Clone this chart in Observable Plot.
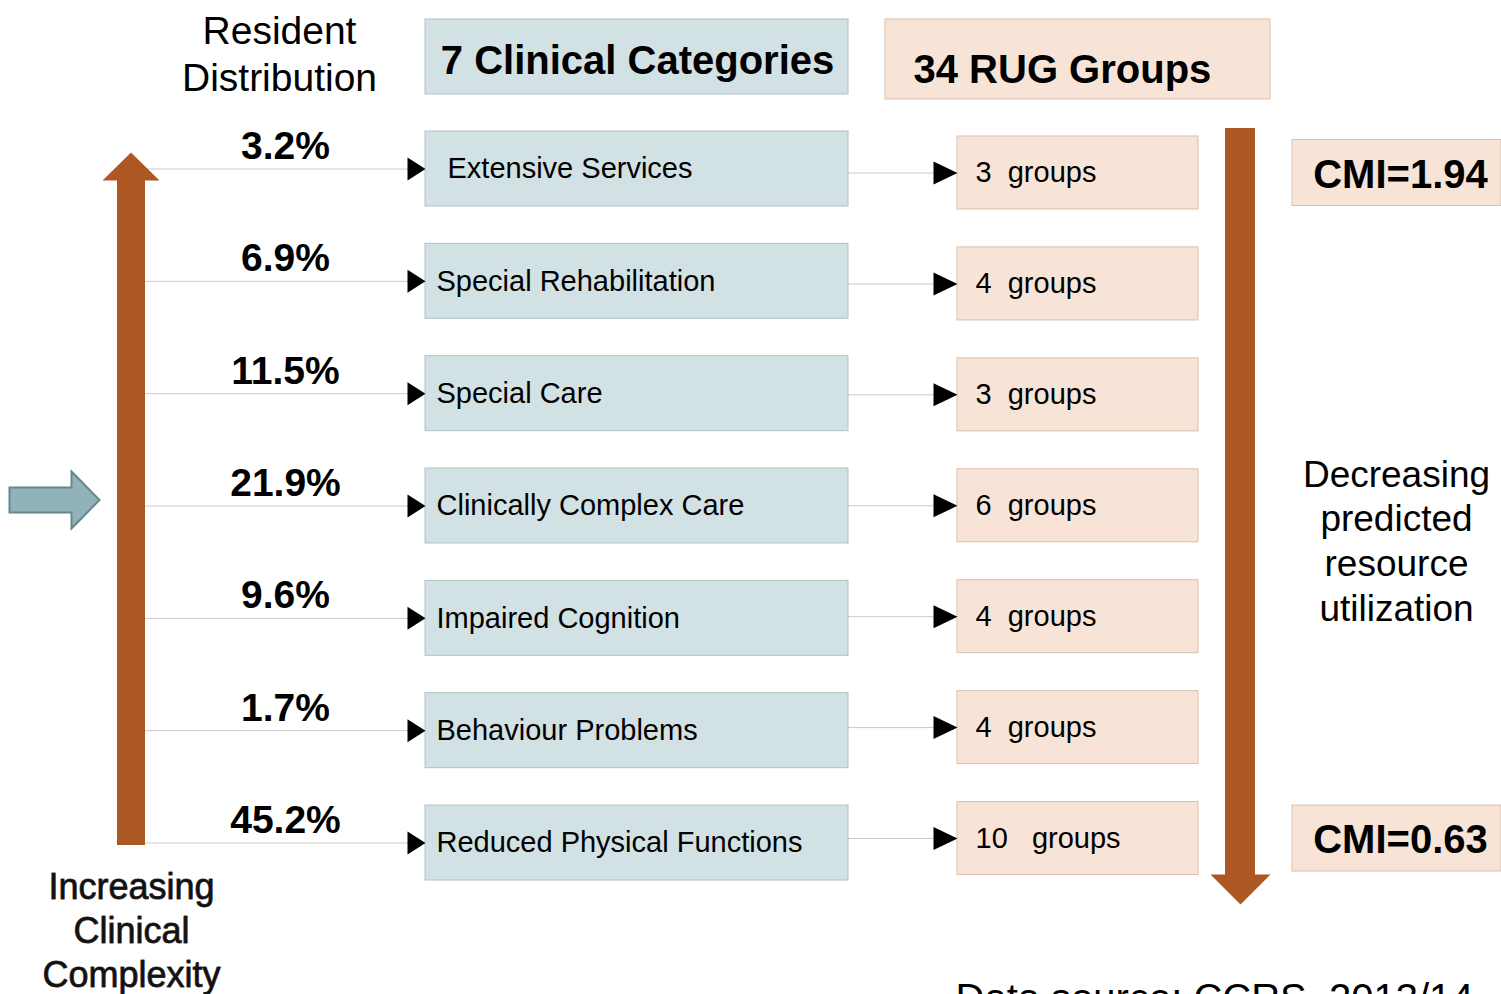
<!DOCTYPE html>
<html><head><meta charset="utf-8">
<script src="https://cdn.jsdelivr.net/npm/d3@7"></script>
<script src="https://cdn.jsdelivr.net/npm/@observablehq/plot@0.6"></script>
<style>
body{margin:0;background:#fff}
svg{display:block}
svg text{white-space:pre}
</style>
</head><body><div id="chart"></div>
<script>
// ---- data ----
const categories = ["Extensive Services","Special Rehabilitation","Special Care","Clinically Complex Care","Impaired Cognition","Behaviour Problems","Reduced Physical Functions"];
const shares = [3.2, 6.9, 11.5, 21.9, 9.6, 1.7, 45.2];
const groupCounts = [3, 4, 3, 6, 4, 4, 10];
const cmiValues = [1.94, 0.63];
const headers = ["7 Clinical Categories", "34 RUG Groups"];
const sideLabels = ["Resident\nDistribution", "Decreasing\npredicted\nresource\nutilization", "Increasing\nClinical\nComplexity", "Data source: CCRS, 2013/14"];

// ---- layout (row units on the y scale) ----
const RUG_SHIFT = 4 / 112.33, RUG_STEP = 110.92 / 112.33;
const rows = categories.map((c, i) => ({category: c, row: i, share: shares[i], groups: groupCounts[i], rug: RUG_SHIFT + RUG_STEP * i}));
const cmi = cmiValues.map((v, i) => ({label: `CMI=${v.toFixed(2)}`, rug: i === 0 ? rows[0].rug : rows[rows.length - 1].rug}));
const last = rows.length - 1;

const orange = "#ad5722", blueFill = "#d2e1e4", blueStroke = "#b2c2c4", peachFill = "#f8e4d7", peachStroke = "#d8bfaf", lineGray = "#cacaca";
const font = "Liberation Sans, Arial, Helvetica, sans-serif";

const poly = (pts) => ({draw(ctx) { ctx.moveTo(pts[0][0], pts[0][1]); for (const p of pts.slice(1)) ctx.lineTo(p[0], p[1]); ctx.closePath(); }});
const tri1 = poly([[9, 0], [-9, -11.5], [-9, 11.5]]);
const tri2 = poly([[12, 0], [-12, -11.5], [-12, 11.5]]);
const upHead = poly([[0, -16.5], [28.5, 11.5], [-28.5, 11.5]]);
const downHead = poly([[-30, 31.5], [30, 31.5], [0, 61.5]]);
const blueArrow = poly([[-45, -12.5], [17, -12.5], [17, -28.5], [45, 0], [17, 28.5], [17, 12.5], [-45, 12.5]]);

const chart = Plot.plot({
  width: 1501, height: 994, margin: 0,
  style: {fontFamily: font, background: "#fff", color: "#000"},
  x: {domain: [0, 1501], range: [0, 1501], axis: null},
  y: {domain: [0, last], range: [168.5, 842.5], axis: null},
  marks: [
    // connectors
    Plot.ruleY(rows, {y: "row", x1: 145, x2: 408, stroke: lineGray, strokeWidth: 1}),
    Plot.ruleY(rows, {y: "rug", x1: 848, x2: 934, stroke: lineGray, strokeWidth: 1}),
    // header boxes
    Plot.rect([headers[0]], {x1: 425, x2: 848, y1: -1, y2: -1, insetTop: -37.2, insetBottom: -37.8, fill: blueFill, stroke: blueStroke}),
    Plot.rect([headers[1]], {x1: 885, x2: 1270, y1: -1, y2: -1, insetTop: -37.2, insetBottom: -42.8, fill: peachFill, stroke: peachStroke}),
    // category boxes
    Plot.rect(rows, {x1: 425, x2: 848, y1: "row", y2: "row", insetTop: -37.5, insetBottom: -37.5, fill: blueFill, stroke: blueStroke}),
    // RUG boxes
    Plot.rect(rows, {x1: 957, x2: 1198, y1: "rug", y2: "rug", insetTop: -36.5, insetBottom: -36.5, fill: peachFill, stroke: peachStroke}),
    // CMI boxes
    Plot.rect(cmi, {x1: 1292, x2: 1501, y1: "rug", y2: "rug", insetTop: -33, insetBottom: -33, fill: peachFill, stroke: peachStroke}),
    // big arrows
    Plot.rect([0], {x1: 117, x2: 145, y1: 0, y2: last, insetTop: 11.5, insetBottom: -2.5, fill: orange}),
    Plot.dot([0], {x: 130.5, y: 0, symbol: upHead, fill: orange, stroke: "none"}),
    Plot.rect([0], {x1: 1225, x2: 1255, y1: 0, y2: last, insetTop: -40.5, insetBottom: -33.5, fill: orange}),
    Plot.dot([0], {x: 1240, y: last, symbol: downHead, fill: orange, stroke: "none"}),
    Plot.dot([0], {x: 54, y: 3, dy: -6, symbol: blueArrow, fill: "#8fb3b9", stroke: "#66888c", strokeWidth: 2}),
    // triangles
    Plot.dot(rows, {x: 416, y: "row", symbol: tri1, fill: "#000", stroke: "none"}),
    Plot.dot(rows, {x: 945, y: "rug", symbol: tri2, fill: "#000", stroke: "none"}),
    // row texts
    Plot.text(rows, {x: 285, y: "row", dy: -10, lineAnchor: "bottom", text: d => `${d.share.toFixed(1)}%`, fontSize: 39, fontWeight: "bold", fill: "#000"}),
    Plot.text(rows, {x: d => d.row === 0 ? 447 : 436, y: "row", textAnchor: "start", text: "category", fontSize: 29, fill: "#000"}),
    Plot.text(rows, {x: 975, y: "rug", textAnchor: "start", text: d => `${d.groups}${d.groups >= 10 ? "   " : "  "}groups`, fontSize: 29, fill: "#000"}),
    Plot.text(cmi, {x: 1400, y: "rug", dy: 2, text: "label", fontSize: 40, fontWeight: "bold", fill: "#000"}),
    // headers
    Plot.text([headers[0]], {x: 637, frameAnchor: "top", dy: 73, lineAnchor: "bottom", text: d => d, fontSize: 40, fontWeight: "bold", fill: "#000"}),
    Plot.text([headers[1]], {x: 913, frameAnchor: "top", dy: 82, lineAnchor: "bottom", textAnchor: "start", text: d => d, fontSize: 40, fontWeight: "bold", fill: "#000"}),
    // side labels
    Plot.text([sideLabels[0]], {x: 279, frameAnchor: "top", dy: 90, lineAnchor: "bottom", lineHeight: 47 / 39, text: d => d, fontSize: 39, fill: "#000"}),
    Plot.text([sideLabels[1]], {x: 1396, frameAnchor: "top", dy: 620, lineAnchor: "bottom", lineHeight: 44.6 / 37, text: d => d, fontSize: 37, fill: "#000"}),
    Plot.text([sideLabels[2]], {x: 131, frameAnchor: "top", dy: 986, lineAnchor: "bottom", lineHeight: 44 / 36, text: d => d, fontSize: 36, fill: "#111", stroke: "#444", strokeWidth: 0.9}),
    Plot.text([sideLabels[3]], {x: 955, frameAnchor: "top", dy: 1011, lineAnchor: "bottom", textAnchor: "start", text: d => d, fontSize: 40, fill: "#000"})
  ]
});
document.getElementById("chart").appendChild(chart);
</script>
</body></html>
